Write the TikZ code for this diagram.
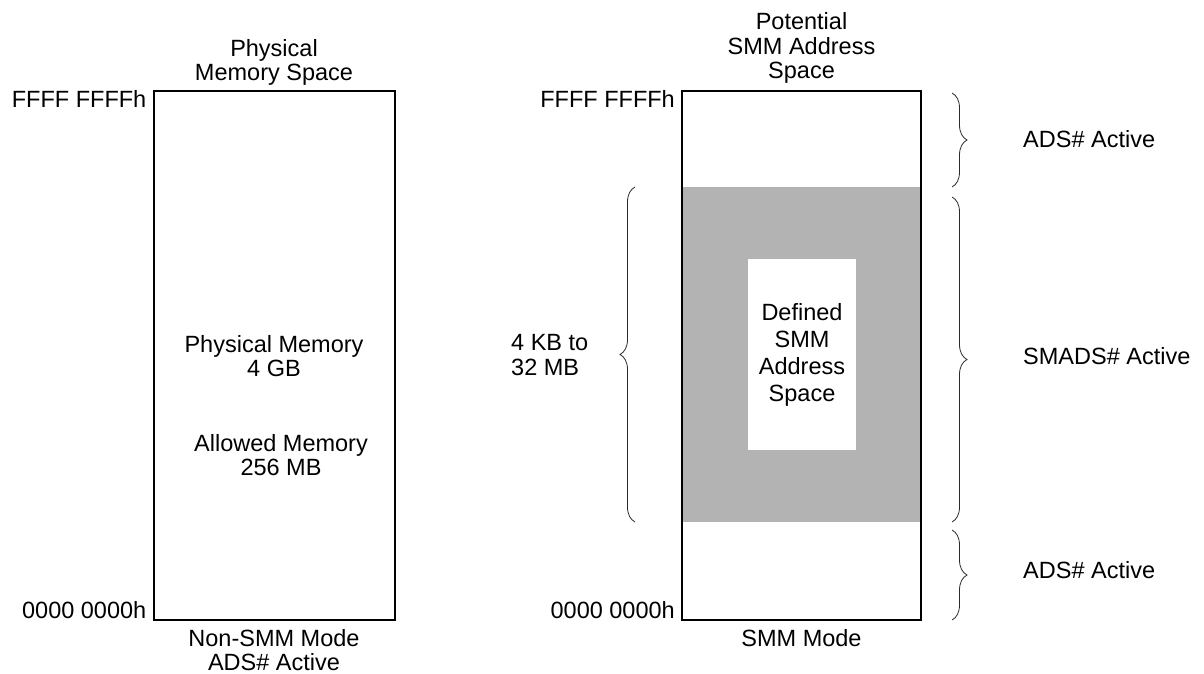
\documentclass[tikz,border=0pt]{standalone}
\usepackage{fontspec}
\setmainfont{Liberation Sans}
\usetikzlibrary{positioning,decorations.pathreplacing}
\definecolor{Ink}{HTML}{000000}
\definecolor{Band}{HTML}{B3B3B3}
\definecolor{BraceInk}{HTML}{2A2A2A}

\begin{document}
\begin{tikzpicture}[x=1pt,y=-1pt,every node/.style={font=\fontsize{23.5}{24.5}\selectfont,text=Ink,align=center,inner sep=0pt},
  memrect/.style={draw=Ink,line width=2pt,minimum width=241pt,minimum height=529pt},
  brace/.style={decorate,decoration={brace,amplitude=15pt},draw=BraceInk,line width=0.8pt}]
\useasboundingbox (0,0) rectangle (1204,674);
% left: physical memory
\node[memrect] (phys) at (274,355.5) {};
\node[above=4pt of phys] (physT) {Physical\\Memory Space};
\node[left=6pt of phys.north west,yshift=-9pt] (physHi) {FFFF FFFFh};
\node[left=6pt of phys.south west,yshift=11pt] (physLo) {0000 0000h};
\node[below=8pt of phys] (physB) {Non-SMM Mode\\ADS\# Active};
\node (physM) at (274,356) {Physical Memory\\4 GB};
\node (allowM) at (281,455) {Allowed Memory\\256 MB};
% right: SMM address space
\node[fill=Band,minimum width=239pt,minimum height=335pt] (band) at (801.5,354.5) {};
\node[fill=white,minimum width=108pt,minimum height=191pt,font=\fontsize{23.5}{27}\selectfont] (defd) at (802,354.5) {Defined\\SMM\\Address\\Space};
\node[memrect,minimum width=239pt] (smm) at (801.5,355.5) {};
\node[above=6pt of smm] (smmT) {Potential\\SMM Address\\Space};
\node[left=6pt of smm.north west,yshift=-9pt] (smmHi) {FFFF FFFFh};
\node[left=6pt of smm.south west,yshift=11pt] (smmLo) {0000 0000h};
\node[below=8pt of smm] (smmB) {SMM Mode};
\node[align=left,anchor=west] (size) at (511,355) {4 KB to\\32 MB};
\coordinate (lb1) at (635,522);\coordinate (lb2) at (635,187);
\draw[brace] (lb1)--(lb2);
% braces on the right
\coordinate (rb1) at (952,93);\coordinate (rb2) at (952,187);
\coordinate (rb3) at (952,197);\coordinate (rb4) at (952,522);
\coordinate (rb5) at (952,530);\coordinate (rb6) at (952,620);
\draw[brace] (rb1)--(rb2);
\draw[brace] (rb3)--(rb4);
\draw[brace] (rb5)--(rb6);
\node[anchor=west] (adsHi) at (1023,139) {ADS\# Active};
\node[anchor=west] (smads) at (1023,356) {SMADS\# Active};
\node[anchor=west] (adsLo) at (1023,570) {ADS\# Active};
\end{tikzpicture}
\end{document}
